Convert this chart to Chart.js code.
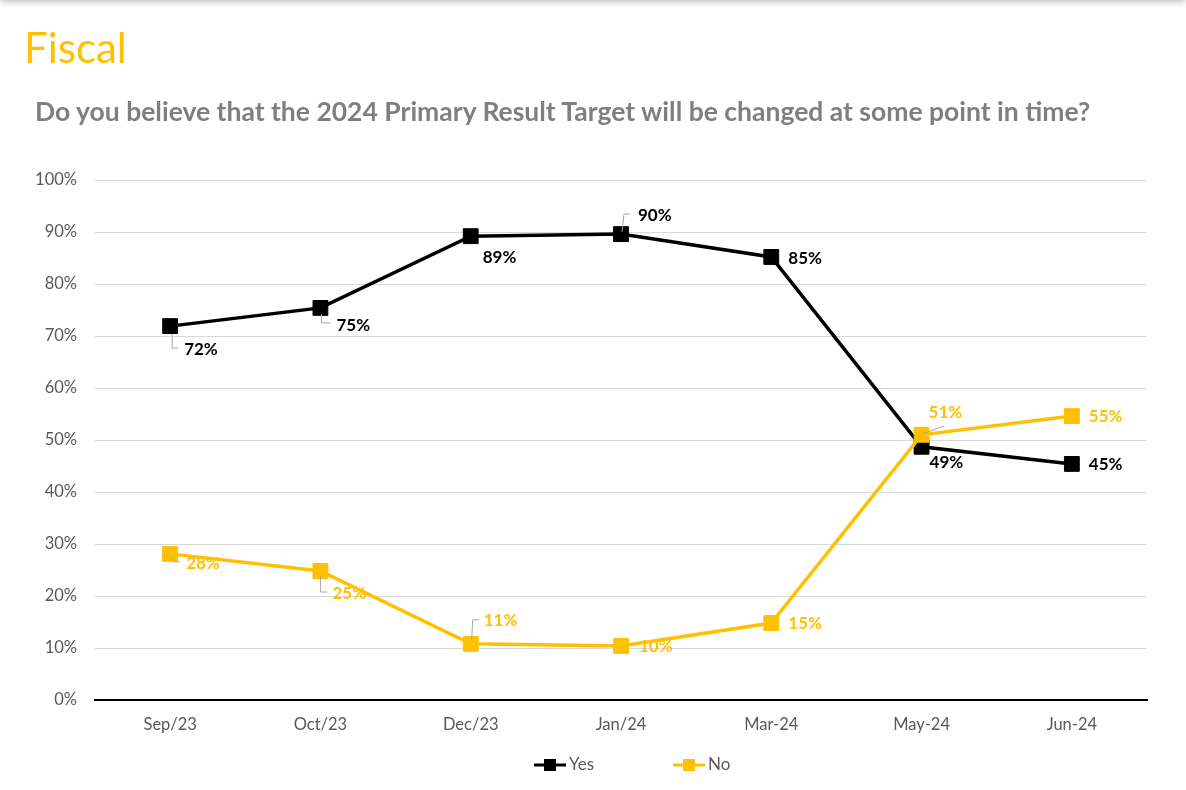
<!DOCTYPE html>
<html>
<head>
<meta charset="utf-8">
<script src="https://cdn.jsdelivr.net/npm/chart.js@4.4.1/dist/chart.umd.min.js"></script>
<style>
  html, body { margin: 0; padding: 0; background: #fff; width: 1186px; height: 790px; overflow: hidden; font-family: Lato, "Open Sans", sans-serif; }
  #topbar { position: absolute; left: 0; top: -10px; width: 1186px; height: 10px; box-shadow: 0 2px 6px rgba(0,0,0,0.25); }
  #title { position: absolute; left: 24px; top: 22px; font-size: 42px; color: #FFC000; line-height: 50px; }
  #subtitle { position: absolute; left: 35px; top: 95px; font-size: 26.5px; font-weight: bold; color: #7f7f7f; line-height: 32px; white-space: nowrap; }
  #wrap { position: absolute; left: 0; top: 0; width: 1186px; height: 790px; }
</style>
</head>
<body>
<div id="topbar"></div>
<div id="wrap"><canvas id="FiscalChart" width="1186" height="790"></canvas></div>
<div id="title">Fiscal</div>
<div id="subtitle">Do you believe that the 2024 Primary Result Target will be changed at some point in time?</div>

<script>
'use strict';

// survey rounds
const months = ["Sep/23", "Oct/23", "Dec/23", "Jan/24", "Mar-24", "May-24", "Jun-24"];

// answers, % of respondents
const yesValues = [71.9, 75.4, 89.2, 89.6, 85.2, 48.7, 45.4];
const noValues = [28.1, 24.8, 10.8, 10.4, 14.8, 51.0, 54.6];

const yTicks = [0, 10, 20, 30, 40, 50, 60, 70, 80, 90, 100];

const BLACK = "#000000";
const YELLOW = "#FFC000";
const GREY_TEXT = "#595959";

/**
 * where each value label sits relative to its point (text left / middle)
 * and the little grey leader lines Excel draws when a label was moved
 */
const yesLabelPlace = [
  { dx: 14, dy: 23, lead: [[2, 8], [2, 22], [8, 22]] },
  { dx: 16, dy: 18, lead: [[1, 6], [1, 15], [10, 15]] },
  { dx: 12, dy: 21 },
  { dx: 17, dy: -19, lead: [[1, -2], [3, -20], [9, -20]] },
  { dx: 17, dy: 2 },
  { dx: 8, dy: 16 },
  { dx: 17, dy: 1 }
];
const noLabelPlace = [
  { dx: 16, dy: 10, lead: [[1, 3], [4, 8], [10, 8]] },
  { dx: 12, dy: 22, lead: [[0, 4], [0, 21], [7, 21]] },
  { dx: 13, dy: -23, lead: [[1, -4], [2, -24], [8, -24]] },
  { dx: 18, dy: 1 },
  { dx: 17, dy: 0 },
  { dx: 7, dy: -22, lead: [[1, -1], [23, -9]] },
  { dx: 17, dy: 0 }
];

const valueLabels = {
  id: "valueLabels",
  afterDatasetsDraw(chart) {
    const ctx = chart.ctx;
    const places = [yesLabelPlace, noLabelPlace];
    ctx.save();
    ctx.font = "bold 17px Lato";
    ctx.textAlign = "left";
    ctx.textBaseline = "middle";
    chart.data.datasets.forEach((ds, di) => {
      const meta = chart.getDatasetMeta(di);
      meta.data.forEach((pt, i) => {
        const p = places[di][i];
        if (p.lead) {
          ctx.beginPath();
          ctx.strokeStyle = "#a6a6a6";
          ctx.lineWidth = 1;
          p.lead.forEach((l, k) => {
            if (k === 0) ctx.moveTo(pt.x + l[0], pt.y + l[1]);
            else ctx.lineTo(pt.x + l[0], pt.y + l[1]);
          });
          ctx.stroke();
        }
        ctx.fillStyle = ds.borderColor;
        ctx.fillText(Math.round(ds.data[i]) + "%", pt.x + p.dx, pt.y + p.dy);
      });
    });
    ctx.restore();
  }
};

// legend with the Excel "line + square" marker
const lineLegend = {
  id: "lineLegend",
  afterDraw(chart) {
    const ctx = chart.ctx;
    const y = 765;
    const items = [
      { x: 534, label: chart.data.datasets[0].label, color: BLACK },
      { x: 673, label: chart.data.datasets[1].label, color: YELLOW }
    ];
    ctx.save();
    items.forEach((it) => {
      ctx.strokeStyle = it.color;
      ctx.lineWidth = 3;
      ctx.beginPath();
      ctx.moveTo(it.x, y);
      ctx.lineTo(it.x + 32, y);
      ctx.stroke();
      ctx.fillStyle = it.color;
      ctx.fillRect(it.x + 10, y - 6, 12, 12);
      ctx.fillStyle = GREY_TEXT;
      ctx.font = "17px Lato";
      ctx.textBaseline = "middle";
      ctx.fillText(it.label, it.x + 35, y);
    });
    ctx.restore();
  }
};

new Chart("FiscalChart", {
  type: "line",
  data: {
    labels: months,
    datasets: [{
      label: "Yes",
      data: yesValues,
      borderColor: BLACK,
      backgroundColor: BLACK,
      borderWidth: 3.5,
      pointStyle: "rect",
      pointRadius: 10.5,
      pointBorderWidth: 1,
      pointHoverRadius: 10.5,
      order: 1,
      fill: false
    }, {
      label: "No",
      data: noValues,
      borderColor: YELLOW,
      backgroundColor: YELLOW,
      borderWidth: 3.5,
      pointStyle: "rect",
      pointRadius: 10.5,
      pointBorderWidth: 1,
      pointHoverRadius: 10.5,
      order: 0,
      fill: false
    }]
  },
  options: {
    responsive: false,
    animation: false,
    devicePixelRatio: 1,
    layout: { padding: { left: 0, top: 180, right: 39, bottom: 50 } },
    plugins: {
      legend: { display: false },
      tooltip: { enabled: false }
    },
    scales: {
      x: {
        offset: true,
        grid: { display: false, drawTicks: false, offset: true },
        border: { color: BLACK, width: 2 },
        ticks: { color: GREY_TEXT, font: { family: "Lato", size: 16.5 }, padding: 15 },
        afterFit(s) { s.height = 40; }
      },
      y: {
        min: 0,
        max: 100,
        afterBuildTicks(s) { s.ticks = yTicks.map(v => ({ value: v })); },
        grid: { color: "#d9d9d9", lineWidth: 1, drawTicks: false },
        border: { display: false },
        ticks: {
          color: GREY_TEXT,
          font: { family: "Lato", size: 16.5 },
          padding: 18,
          callback: (v) => v + "%"
        },
        afterFit(s) { s.width = 95; }
      }
    }
  },
  plugins: [valueLabels, lineLegend]
});
</script>
</body>
</html>
